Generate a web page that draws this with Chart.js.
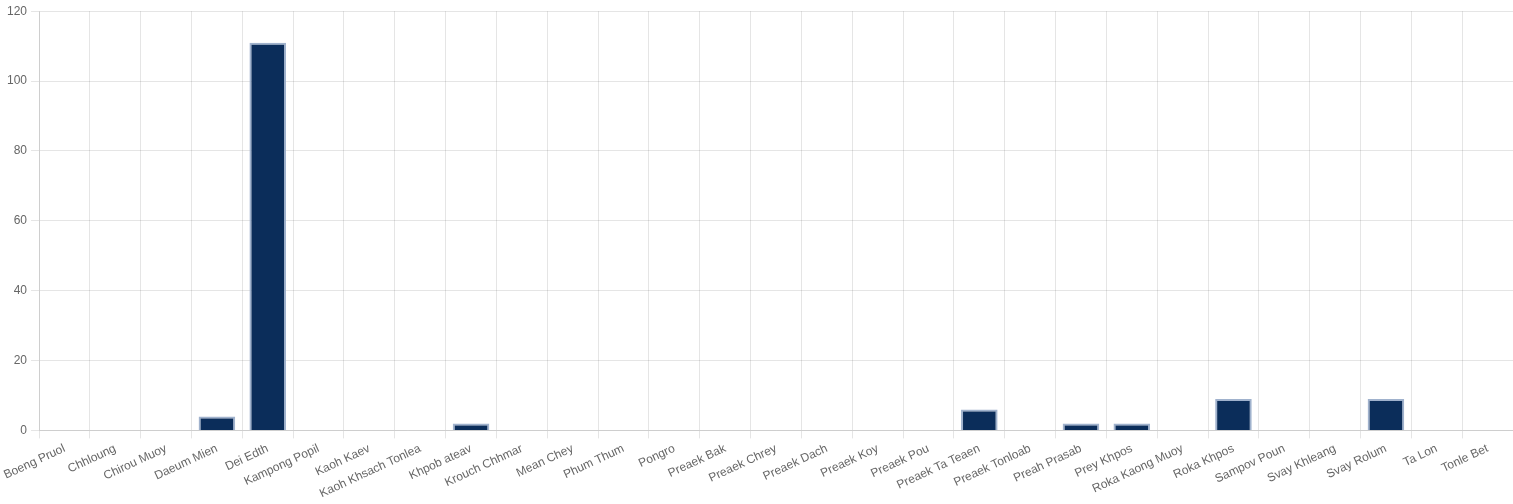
<!DOCTYPE html>
<html>
<head>
<meta charset="utf-8">
<script src="https://cdn.jsdelivr.net/npm/chart.js@4/dist/chart.umd.min.js"></script>
<style>
html,body{margin:0;padding:0;background:#fff;}
#wrap{width:1513px;height:504px;position:relative;}
</style>
</head>
<body>
<div id="wrap"><canvas id="c"></canvas></div>
<script>
const categories = ["Boeng Pruol","Chhloung","Chirou Muoy","Daeum Mien","Dei Edth","Kampong Popil","Kaoh Kaev","Kaoh Khsach Tonlea","Khpob ateav","Krouch Chhmar","Mean Chey","Phum Thum","Pongro","Preaek Bak","Preaek Chrey","Preaek Dach","Preaek Koy","Preaek Pou","Preaek Ta Teaen","Preaek Tonloab","Preah Prasab","Prey Khpos","Roka Kaong Muoy","Roka Khpos","Sampov Poun","Svay Khleang","Svay Rolum","Ta Lon","Tonle Bet"];
const values = [0,0,0,4,111,0,0,0,2,0,0,0,0,0,0,0,0,0,6,0,2,2,0,9,0,0,9,0,0];
const yTicks = [0,20,40,60,80,100,120];

Chart.defaults.font.family = "'Liberation Sans', Arial, sans-serif";
Chart.defaults.font.size = 12;
Chart.defaults.color = "#666";

new Chart(document.getElementById('c'), {
  type: 'bar',
  data: {
    labels: categories,
    datasets: [{
      data: values,
      backgroundColor: '#0b2d5a',
      borderColor: 'rgba(150,170,200,0.9)',
      borderWidth: 2,
      barPercentage: 0.9,
      categoryPercentage: 0.8
    }]
  },
  options: {
    responsive: true,
    maintainAspectRatio: false,
    animation: false,
    layout: { padding: { top: 3, right: 0, left: 3, bottom: 0 } },
    plugins: { legend: { display: false }, tooltip: { enabled: false } },
    scales: {
      x: {
        grid: { color: 'rgba(0,0,0,0.1)', offset: true, tickLength: 8 },
        ticks: { maxRotation: 25, minRotation: 25, autoSkip: false, color: '#666', padding: 3 }
      },
      y: {
        min: 0, max: 120,
        afterBuildTicks: (axis) => { axis.ticks = yTicks.map(v => ({ value: v })); },
        grid: { color: 'rgba(0,0,0,0.1)', tickLength: 8 },
        ticks: { color: '#666', padding: 4 }
      }
    }
  }
});
</script>
</body>
</html>
